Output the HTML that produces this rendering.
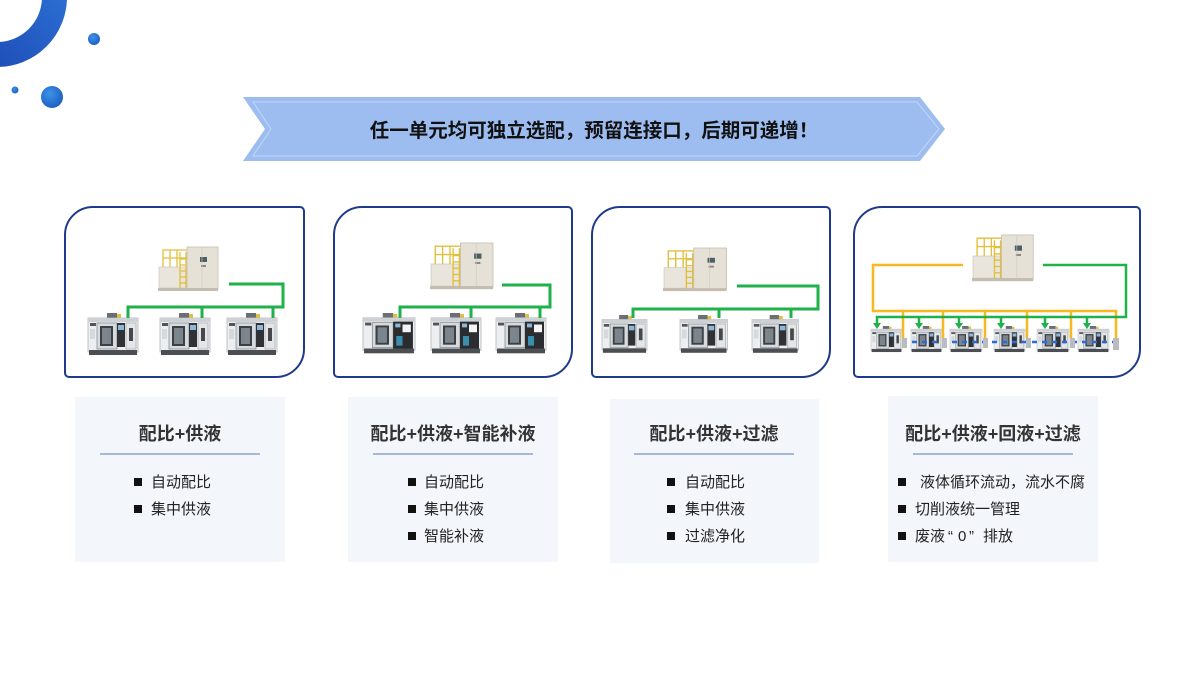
<!DOCTYPE html>
<html><head><meta charset="utf-8"><style>
html,body{margin:0;padding:0;background:#fff;}
svg{display:block;}
text{font-family:"Liberation Sans","Noto Sans CJK SC",sans-serif;}
</style></head><body>
<svg width="1200" height="675" viewBox="0 0 1200 675" xmlns="http://www.w3.org/2000/svg">
<defs>
<linearGradient id="ring" x1="0" y1="1" x2="1" y2="0">
<stop offset="0" stop-color="#1b45b0"/><stop offset="1" stop-color="#2f78da"/>
</linearGradient>
<radialGradient id="dot" cx="0.4" cy="0.35" r="0.7">
<stop offset="0" stop-color="#3d93e6"/><stop offset="1" stop-color="#1c5cc4"/>
</radialGradient>
<g id="cnc">
<rect x="19" y="0" width="10" height="5" fill="#6b6f74"/>
<rect x="29" y="1" width="4" height="4" fill="#e0c040"/>
<rect x="0" y="5" width="50" height="34" fill="#eceef0" stroke="#b3b7bb" stroke-width="0.8"/>
<rect x="0" y="5" width="50" height="4" fill="#cdd1d5"/>
<rect x="2" y="10" width="6" height="3" fill="#555"/>
<rect x="2" y="16" width="5" height="10" fill="#d6d9dc"/>
<rect x="9" y="10" width="20" height="26" fill="#d8dbde" stroke="#8a8e92" stroke-width="0.8"/>
<rect x="12" y="13" width="13" height="20" fill="#3b4046"/>
<rect x="14" y="15" width="9" height="16" fill="#7d858c"/>
<rect x="29" y="10" width="8" height="24" fill="#2f3338"/>
<rect x="30" y="12" width="6" height="5" fill="#8fb8d8"/>
<rect x="38" y="10" width="10" height="26" fill="#e3e5e7" stroke="#a6a9ad" stroke-width="0.7"/>
<rect x="41" y="15" width="4" height="13" fill="#45494e"/>
<rect x="1" y="37" width="48" height="5" fill="#4b4f54"/>
</g>
<g id="cnc2">
<rect x="19" y="0" width="10" height="5" fill="#6b6f74"/>
<rect x="29" y="1" width="4" height="4" fill="#e0c040"/>
<rect x="0" y="5" width="50" height="34" fill="#eceef0" stroke="#b3b7bb" stroke-width="0.8"/>
<rect x="0" y="5" width="50" height="4" fill="#cdd1d5"/>
<rect x="2" y="10" width="6" height="3" fill="#555"/>
<rect x="9" y="10" width="20" height="26" fill="#d8dbde" stroke="#8a8e92" stroke-width="0.8"/>
<rect x="12" y="13" width="13" height="20" fill="#3b4046"/>
<rect x="14" y="15" width="9" height="16" fill="#7d858c"/>
<rect x="29" y="9" width="19" height="29" fill="#2a2c2f"/>
<rect x="31" y="11" width="5" height="4" fill="#8fb8d8"/>
<rect x="38" y="12" width="8" height="8" fill="#f4f4f4"/>
<rect x="32" y="24" width="6" height="10" fill="#3a8fb0"/>
<rect x="1" y="37" width="48" height="5" fill="#4b4f54"/>
</g>
<g id="unit">
<rect x="1" y="20" width="31" height="21" fill="#e9e5dc" stroke="#cfc8ba" stroke-width="0.7"/>
<g stroke="#e2bf3a" stroke-width="1.3" fill="none">
<path d="M5,20 V3 H29 M12,20 V3 M19,20 V3 M5,11 H29"/>
<path d="M22,5 V43 M28,5 V43 M22,12 H28 M22,18 H28 M22,24 H28 M22,30 H28 M22,36 H28"/>
</g>
<rect x="29" y="0" width="31" height="42" fill="#e6e1d6" stroke="#c6bfb0" stroke-width="0.8"/>
<rect x="42" y="10" width="7" height="5" fill="#4d5f66"/>
<rect x="43" y="18" width="5" height="2" fill="#888"/>
<path d="M44,0 V42" stroke="#cfc8ba" stroke-width="0.6"/>
<rect x="0" y="41" width="60" height="3" fill="#c4bdaf"/>
</g>
</defs>

<!-- decoration -->
<circle cx="-3" cy="-3" r="57.5" fill="none" stroke="url(#ring)" stroke-width="25"/>
<circle cx="94" cy="39" r="6" fill="url(#dot)"/>
<circle cx="15" cy="90" r="3.5" fill="url(#dot)"/>
<circle cx="52" cy="97" r="11" fill="url(#dot)"/>

<!-- banner -->
<polygon points="243,97 920,97 945,129 920,161 243,161 265,129" fill="#9dbdf0"/>
<polygon points="253,102 917,102 939,129 917,156 253,156 271,129" fill="none" stroke="#c3d6f6" stroke-width="1"/>
<text x="594" y="137" font-size="19.5" font-weight="bold" fill="#111" text-anchor="middle">任一单元均可独立选配，预留连接口，后期可递增！</text>

<!-- boxes -->
<g fill="#fff" stroke="#1f3a8a" stroke-width="2">
<path d="M93,207 H300 A4,4 0 0 1 304,211 V349 A28,28 0 0 1 276,377 H69 A4,4 0 0 1 65,373 V235 A28,28 0 0 1 93,207 Z"/>
<path d="M362,207 H568 A4,4 0 0 1 572,211 V349 A28,28 0 0 1 544,377 H338 A4,4 0 0 1 334,373 V235 A28,28 0 0 1 362,207 Z"/>
<path d="M620,207 H826 A4,4 0 0 1 830,211 V349 A28,28 0 0 1 802,377 H596 A4,4 0 0 1 592,373 V235 A28,28 0 0 1 620,207 Z"/>
<path d="M882,207 H1136 A4,4 0 0 1 1140,211 V349 A28,28 0 0 1 1112,377 H858 A4,4 0 0 1 854,373 V235 A28,28 0 0 1 882,207 Z"/>
</g>

<!-- box1 -->
<use href="#unit" transform="translate(158,247)"/>
<use href="#cnc" transform="translate(88,313)"/>
<use href="#cnc" transform="translate(160,313)"/>
<use href="#cnc" transform="translate(227,313)"/>
<g stroke="#1fb24a" stroke-width="3" fill="none">
<path d="M229,284 H283 V307 H128 V318"/>
<path d="M202,307 V318 M273,307 V318"/>
</g>

<!-- box2 -->
<use href="#unit" transform="translate(430,243) scale(1.05)"/>
<use href="#cnc2" transform="translate(363,313) scale(1.04,0.96)"/>
<use href="#cnc2" transform="translate(431,313) scale(1.0,0.96)"/>
<use href="#cnc2" transform="translate(496,313) scale(1.0,0.96)"/>
<g stroke="#1fb24a" stroke-width="3" fill="none">
<path d="M502,285 H550 V307 H400 V318"/>
<path d="M471,307 V318 M540,307 V318"/>
</g>

<!-- box3 -->
<use href="#unit" transform="translate(663,248) scale(1.06,0.98)"/>
<use href="#cnc" transform="translate(602,315) scale(0.9)"/>
<use href="#cnc" transform="translate(680,315) scale(0.95,0.9)"/>
<use href="#cnc" transform="translate(752,315) scale(0.93,0.9)"/>
<g stroke="#1fb24a" stroke-width="3" fill="none">
<path d="M737,286 H818 V309 H633 V318"/>
<path d="M719,309 V318 M791,309 V318"/>
</g>

<!-- box4 -->
<use href="#unit" transform="translate(972,235) scale(1.02,1.05)"/>
<use href="#cnc" transform="translate(871,326) scale(0.62,0.62)"/>
<use href="#cnc" transform="translate(911,326) scale(0.62,0.62)"/>
<use href="#cnc" transform="translate(950,326) scale(0.64,0.62)"/>
<use href="#cnc" transform="translate(994,326) scale(0.62,0.62)"/>
<use href="#cnc" transform="translate(1037,326) scale(0.64,0.62)"/>
<use href="#cnc" transform="translate(1078,326) scale(0.62,0.62)"/>
<path d="M902,342 H1115" stroke="#2a6bd6" stroke-width="2.5" stroke-dasharray="5,5"/>
<g fill="#b8bcc0">
<rect x="902" y="338" width="5" height="10"/><rect x="942" y="338" width="5" height="10"/>
<rect x="983" y="338" width="5" height="10"/><rect x="1026" y="338" width="5" height="10"/>
<rect x="1070" y="338" width="5" height="10"/><rect x="1113" y="338" width="6" height="12"/>
</g>
<g stroke="#f8b820" stroke-width="2.5" fill="none">
<path d="M963,265 H873 V311 H1116 V338"/>
<path d="M903,311 V338 M943,311 V338 M985,311 V338 M1027,311 V338 M1071,311 V338"/>
</g>
<g stroke="#1fb24a" stroke-width="2.5" fill="none">
<path d="M1043,265 H1126 V317 H877 V324"/>
<path d="M919,317 V324 M959,317 V324 M1001,317 V324 M1045,317 V324 M1087,317 V324"/>
</g>
<g fill="#1fb24a">
<path d="M873,323 H881 L877,329 Z"/><path d="M915,323 H923 L919,329 Z"/>
<path d="M955,323 H963 L959,329 Z"/><path d="M997,323 H1005 L1001,329 Z"/>
<path d="M1041,323 H1049 L1045,329 Z"/><path d="M1083,323 H1091 L1087,329 Z"/>
</g>

<!-- cards -->
<g fill="#f3f6fb">
<rect x="75" y="397" width="210" height="165"/>
<rect x="348" y="397" width="210" height="165"/>
<rect x="610" y="399" width="209" height="164"/>
<rect x="888" y="396" width="210" height="166"/>
</g>
<g stroke="#8ea4cf" stroke-width="1.5">
<path d="M100,454 H260"/><path d="M373,454 H533"/><path d="M634,454 H794"/><path d="M913,454 H1073"/>
</g>
<g font-size="18" font-weight="bold" fill="#333" text-anchor="middle">
<text x="180" y="440">配比+供液</text>
<text x="453" y="440">配比+供液+智能补液</text>
<text x="714" y="440">配比+供液+过滤</text>
<text x="993" y="440">配比+供液+回液+过滤</text>
</g>
<g fill="#111">
<rect x="134" y="478" width="8" height="8"/><rect x="134" y="505" width="8" height="8"/>
<rect x="408" y="478" width="8" height="8"/><rect x="408" y="505" width="8" height="8"/><rect x="408" y="532" width="8" height="8"/>
<rect x="667" y="478" width="8" height="8"/><rect x="667" y="505" width="8" height="8"/><rect x="667" y="532" width="8" height="8"/>
<rect x="898" y="478" width="8" height="8"/><rect x="898" y="505" width="8" height="8"/><rect x="898" y="532" width="8" height="8"/>
</g>
<g font-size="15" fill="#222">
<text x="151" y="487">自动配比</text>
<text x="151" y="514">集中供液</text>
<text x="424" y="487">自动配比</text>
<text x="424" y="514">集中供液</text>
<text x="424" y="541">智能补液</text>
<text x="685" y="487">自动配比</text>
<text x="685" y="514">集中供液</text>
<text x="685" y="541">过滤净化</text>
<text x="920" y="487">液体循环流动，流水不腐</text>
<text x="915" y="514">切削液统一管理</text>
<text y="541"><tspan x="915">废液</tspan><tspan x="948">“</tspan><tspan x="958">0</tspan><tspan x="969">”</tspan><tspan x="983">排放</tspan></text>
</g>
</svg>
</body></html>
